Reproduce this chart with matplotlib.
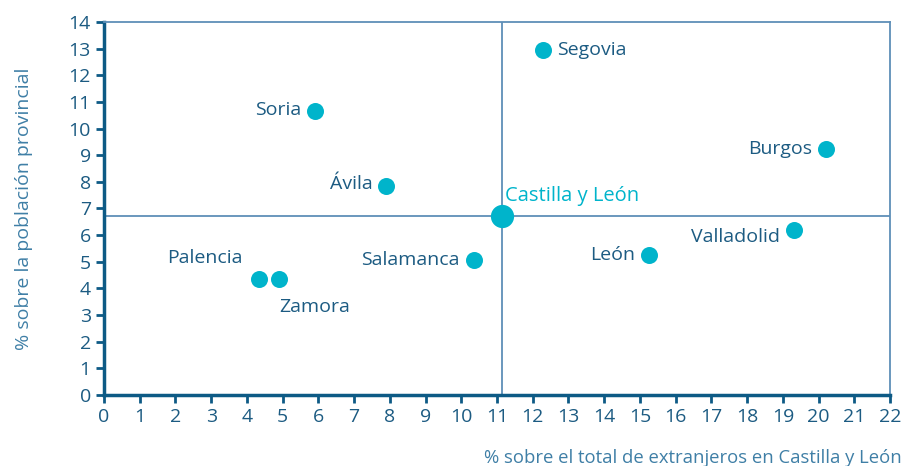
import matplotlib
matplotlib.use("Agg")
import matplotlib.pyplot as plt

provincias = ["Soria", "Segovia", "Burgos", "Ávila", "Valladolid", "León",
              "Salamanca", "Palencia", "Zamora"]
pct_extranjeros = [5.9, 12.3, 20.2, 7.9, 19.3, 15.25, 10.35, 4.35, 4.9]
pct_poblacion = [10.65, 12.95, 9.25, 7.85, 6.2, 5.25, 5.05, 4.35, 4.35]
total_x = 11.15
total_y = 6.7

# label offsets in points (dx, dy) and alignment
offsets = {
    "Soria": (-10, 1, "right", "center"),
    "Segovia": (10, 0, "left", "center"),
    "Burgos": (-10, 0, "right", "center"),
    "Ávila": (-10, 1, "right", "center"),
    "Valladolid": (-10, -5, "right", "center"),
    "León": (-10, 0, "right", "center"),
    "Salamanca": (-10, 0, "right", "center"),
    "Palencia": (-12, 15, "right", "center"),
    "Zamora": (0, -20, "left", "center"),
}

dark = "#0d5a85"
light = "#5e8fb8"
cyan = "#00b4cb"
txt = "#1c5b82"

plt.rcParams['font.family'] = ['Open Sans', 'DejaVu Sans']

fig = plt.figure(figsize=(9.02, 4.66), dpi=100)
ax = fig.add_axes([0.1153, 0.1524, 0.8714, 0.8004])

ax.axvline(total_x, color=light, lw=1.3, zorder=1)
ax.axhline(total_y, color=light, lw=1.3, zorder=1)

ax.scatter(pct_extranjeros, pct_poblacion, s=150, color=cyan, zorder=3, linewidths=0)
ax.scatter([total_x], [total_y], s=280, color=cyan, zorder=3, linewidths=0)

for name, x, y in zip(provincias, pct_extranjeros, pct_poblacion):
    dx, dy, ha, va = offsets[name]
    ax.annotate(name, (x, y), xytext=(dx, dy), textcoords="offset points",
                ha=ha, va=va, fontsize=14, color=txt)
ax.annotate("Castilla y León", (total_x, total_y), xytext=(2, 15),
            textcoords="offset points", ha="left", va="center",
            fontsize=14.5, color=cyan)

ax.set_xlim(0, 22)
ax.set_ylim(0, 14)
ax.set_xticks(range(0, 23))
ax.set_yticks(range(0, 15))

for s in ["left", "bottom"]:
    ax.spines[s].set_color(dark)
    ax.spines[s].set_linewidth(2.5)
for s in ["top", "right"]:
    ax.spines[s].set_color(light)
    ax.spines[s].set_linewidth(1.3)

ax.tick_params(axis="both", direction="out", length=6, width=2, color=dark,
               labelcolor=txt, labelsize=14)

ax.set_xlabel("% sobre el total de extranjeros en Castilla y León",
              fontsize=13.3, color="#3f7fa6", ha="right")
ax.xaxis.set_label_coords(1.015, -0.145)
ax.set_ylabel("% sobre la población provincial", fontsize=14,
              color="#3f7fa6")
ax.yaxis.set_label_coords(-0.09, 0.5)

plt.savefig("out.png", dpi=100)
